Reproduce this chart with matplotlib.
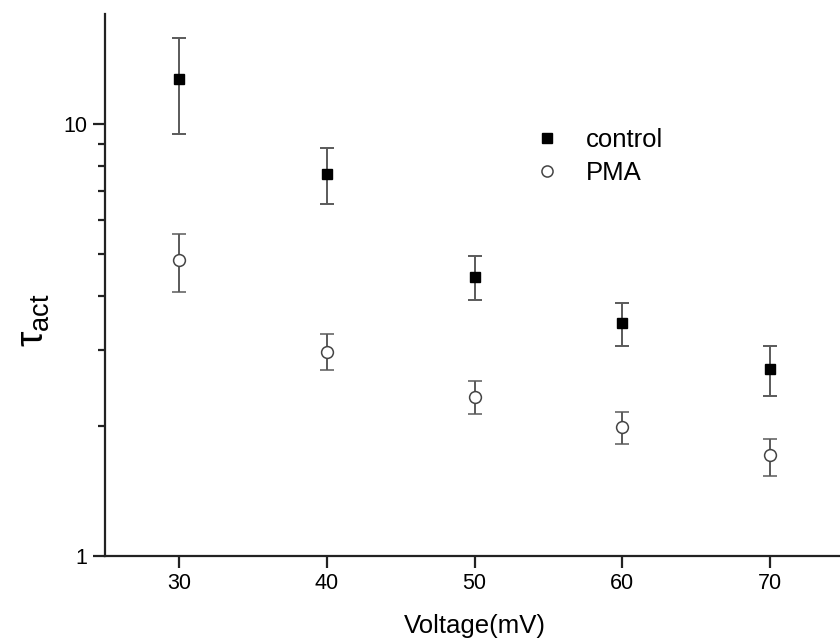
import numpy as np
import matplotlib
matplotlib.use("Agg")
import matplotlib.pyplot as plt
from matplotlib.lines import Line2D
from matplotlib.ticker import LogLocator, NullFormatter, FixedLocator

plt.rcParams['font.family'] = ['Liberation Sans', 'DejaVu Sans']
plt.rcParams['mathtext.fontset'] = 'custom'
plt.rcParams['mathtext.rm'] = 'Liberation Sans'
plt.rcParams['mathtext.it'] = 'Liberation Sans'

voltage = [30, 40, 50, 60, 70]

control = [12.7, 7.65, 4.42, 3.47, 2.71]
control_lo = [9.47, 6.52, 3.91, 3.07, 2.35]
control_hi = [15.85, 8.79, 4.94, 3.86, 3.07]

pma = [4.84, 2.97, 2.34, 1.99, 1.71]
pma_lo = [4.08, 2.69, 2.13, 1.82, 1.53]
pma_hi = [5.58, 3.26, 2.54, 2.15, 1.87]


def main():
    fig = plt.figure(figsize=(8.4, 6.39), dpi=100)
    ax = fig.add_axes([105 / 840, 83 / 639, 739 / 840, 542 / 639])

    c = np.array(control)
    p = np.array(pma)
    c_err = [c - np.array(control_lo), np.array(control_hi) - c]
    p_err = [p - np.array(pma_lo), np.array(pma_hi) - p]

    ax.errorbar(voltage, control, yerr=c_err, fmt='s', color='black', ms=7.5,
                ecolor='#5a5a5a', elinewidth=1.4, capsize=5, capthick=1.4,
                zorder=3)
    ax.errorbar(voltage, pma, yerr=p_err, fmt='o', mfc='white', mec='#444444',
                mew=1.1, ms=8.5, ecolor='#5a5a5a', elinewidth=1.4, capsize=5,
                capthick=1.4, zorder=3)

    ax.set_yscale('log')
    ax.set_xlim(25, 75)
    ax.set_ylim(1, 18)
    ax.set_xticks([30, 40, 50, 60, 70])
    ax.yaxis.set_major_locator(FixedLocator([1, 10]))
    ax.set_yticklabels(['1', '10'])
    ax.yaxis.set_minor_locator(LogLocator(base=10, subs=np.arange(2, 10)))
    ax.yaxis.set_minor_formatter(NullFormatter())

    ax.spines['top'].set_visible(False)
    ax.spines['right'].set_visible(False)
    for s in ['left', 'bottom']:
        ax.spines[s].set_linewidth(1.6)
        ax.spines[s].set_color('#222222')
    ax.tick_params(which='major', direction='out', length=8.5, width=1.6,
                   labelsize=15.5, color='#222222', pad=4)
    ax.tick_params(which='minor', direction='out', length=5, width=1.6,
                   color='#222222')

    ax.set_xlabel('Voltage(mV)', fontsize=18.5, labelpad=14)
    ax.set_ylabel(r'$\mathregular{\tau_{act}}$', fontsize=28)
    ax.yaxis.set_label_coords(-0.072, 0.435)

    handles = [
        Line2D([], [], ls='none', marker='s', color='black', ms=7),
        Line2D([], [], ls='none', marker='o', mfc='white', mec='#444444',
               mew=1.1, ms=8),
    ]
    ax.legend(handles, ['control', 'PMA'], loc='upper left',
              bbox_to_anchor=(0.581, 0.79), frameon=False, fontsize=18.5,
              handletextpad=1.0, labelspacing=0.35, handlelength=1.0,
              borderpad=0, borderaxespad=0)

    fig.savefig('out.png', dpi=100)


if __name__ == "__main__":
    main()
